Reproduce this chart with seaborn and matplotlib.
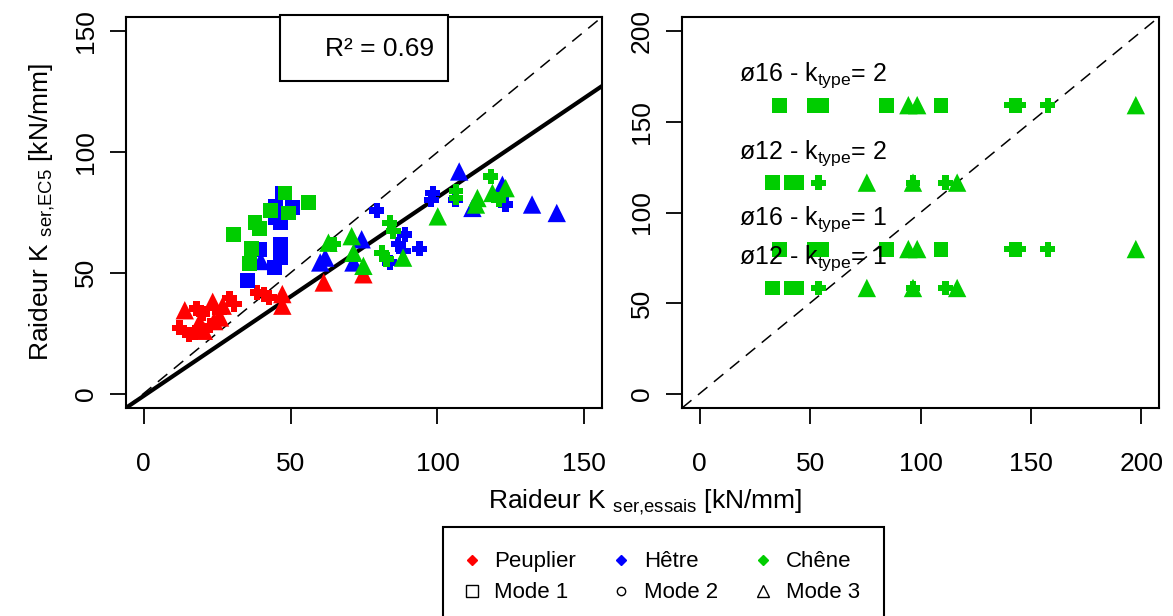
import numpy as np
import pandas as pd
import seaborn as sns
import matplotlib.pyplot as plt
from matplotlib.lines import Line2D
from matplotlib.patches import Rectangle

# ---- left panel : K_ser essais vs K_ser EC5 ----
peuplier_x = [14.0, 12.2, 15.5, 17.5, 18.0, 19.0, 20.5, 20.2, 23.5, 24.0, 22.5, 25.8,
              26.9, 26.0, 29.2, 30.8, 38.7, 41.0, 42.7, 47.2, 47.2, 61.3, 74.8]
peuplier_y = [34.5, 27.3, 24.5, 25.2, 35.2, 29.5, 26.0, 33.0, 38.0, 30.0, 28.0, 33.7,
              36.4, 31.5, 39.5, 37.0, 41.9, 41.2, 39.8, 41.2, 36.4, 46.0, 49.4]
peuplier_mode = [3, 2, 2, 2, 2, 3, 3, 2, 3, 3, 2, 2,
                 3, 3, 2, 2, 2, 2, 2, 3, 3, 3, 3]

hetre_x = [47.2, 44.9, 50.6, 44.9, 46.6, 46.6, 39.3, 46.6, 44.4, 35.4, 39.9,
           107.4, 98.4, 97.9, 106.1, 122.1, 123.2, 132.2, 140.6, 111.9, 79.3, 88.9,
           86.6, 88.3, 93.9, 83.8, 74.2, 61.8, 60.1, 71.4]
hetre_y = [83.1, 77.6, 76.9, 72.8, 70.7, 61.8, 59.7, 56.3, 52.2, 47.0, 54.9,
           92.0, 83.1, 80.3, 80.3, 86.5, 78.3, 78.3, 74.8, 76.9, 75.8, 65.9,
           61.8, 59.0, 60.0, 54.3, 63.9, 56.3, 54.3, 54.3]
hetre_mode = [1, 1, 1, 1, 1, 1, 1, 1, 1, 1, 3,
              3, 2, 2, 2, 3, 2, 3, 3, 3, 2, 2,
              2, 2, 2, 2, 3, 3, 3, 3]

chene_x = [48.1, 56.2, 43.2, 49.4, 37.9, 39.3, 30.6, 36.7, 35.9,
           118.1, 106.3, 106.3, 113.6, 113.1, 118.7, 123.2, 120.9, 100.1, 83.8, 84.9,
           81.0, 82.7, 88.3, 70.8, 71.4, 74.8, 62.9, 64.6]
chene_y = [83.1, 79.2, 75.8, 74.8, 71.0, 68.2, 65.9, 60.2, 53.8,
           89.9, 83.8, 81.0, 81.0, 78.3, 83.1, 85.1, 80.3, 73.4, 70.7, 67.3,
           58.3, 55.6, 56.3, 65.2, 58.3, 52.9, 62.5, 61.8]
chene_mode = [1, 1, 1, 1, 1, 1, 1, 1, 1,
              2, 2, 2, 3, 3, 3, 3, 2, 3, 2, 2,
              2, 2, 3, 3, 3, 3, 3, 2]

reg_slope = 0.823
reg_intercept = -1.0
r2_text = 'R² = 0.69'

# ---- right panel : Chêne, EC5 value per diameter / k_type ----
d16_x = [36.1, 51.9, 55.1, 84.5, 94.5, 98.5, 109.3, 141.4, 144.4, 157.6, 197.5]
d16_mode = [1, 1, 1, 1, 3, 3, 1, 2, 2, 2, 3]
d12_x = [32.8, 41.4, 43.9, 53.8, 75.7, 96.6, 96.6, 111.3, 116.6]
d12_mode = [1, 1, 1, 2, 3, 3, 2, 2, 3]

group_labels = ['ø16 - k$_{type}$= 2', 'ø12 - k$_{type}$= 2',
                'ø16 - k$_{type}$= 1', 'ø12 - k$_{type}$= 1']
group_diam = [16, 12, 16, 12]
group_ec5 = [159.3, 116.5, 79.8, 58.3]

colors = {'Peuplier': '#FF0000', 'Hêtre': '#0000FF', 'Chêne': '#00CD00'}
# chunky cross, close to how the small filled dots look in the original
dot = [(-0.42, 1), (0.42, 1), (0.42, 0.42), (1, 0.42), (1, -0.42), (0.42, -0.42),
       (0.42, -1), (-0.42, -1), (-0.42, -0.42), (-1, -0.42), (-1, 0.42), (-0.42, 0.42)]
markers = {1: 's', 2: dot, 3: '^'}
msizes = {1: 115, 2: 115, 3: 175}

sns.set_style('white')
plt.rcParams['font.family'] = ['Liberation Sans', 'DejaVu Sans']
plt.rcParams['mathtext.default'] = 'regular'
plt.rcParams['text.color'] = 'black'
plt.rcParams['axes.labelcolor'] = 'black'
plt.rcParams['xtick.color'] = 'black'
plt.rcParams['ytick.color'] = 'black'


def frame(x, y, mode, name):
    return pd.DataFrame({'x': x, 'y': y, 'mode': mode, 'essence': name})


left = pd.concat([frame(peuplier_x, peuplier_y, peuplier_mode, 'Peuplier'),
                  frame(hetre_x, hetre_y, hetre_mode, 'Hêtre'),
                  frame(chene_x, chene_y, chene_mode, 'Chêne')])

rows = []
for lab, d, v in zip(group_labels, group_diam, group_ec5):
    xs = d16_x if d == 16 else d12_x
    ms = d16_mode if d == 16 else d12_mode
    rows.append(pd.DataFrame({'x': xs, 'y': [v] * len(xs), 'mode': ms, 'groupe': lab}))
right = pd.concat(rows)

W, H = 1173, 616
fig = plt.figure(figsize=(W / 100, H / 100), dpi=100)
ax1 = fig.add_axes([126 / W, 1 - 408 / H, 476 / W, 391 / H])
ax2 = fig.add_axes([682 / W, 1 - 408 / H, 477 / W, 391 / H])

sns.scatterplot(data=left, x='x', y='y', hue='essence', style='mode', size='mode',
                palette=colors, markers=markers, sizes=msizes, linewidth=0,
                legend=False, ax=ax1, zorder=3)
ax1.axline((0, 0), slope=1, color='black', lw=1.1, ls=(0, (8, 5.5)))
ax1.axline((0, reg_intercept), slope=reg_slope, color='black', lw=3)
ax1.set_xlim(-6, 156)
ax1.set_ylim(-6, 156)
ax1.set_xticks([0, 50, 100, 150])
ax1.set_yticks([0, 50, 100, 150])
ax1.add_patch(Rectangle((0.3235, 0.836), 0.3525, 0.17, transform=ax1.transAxes,
                        facecolor='white', edgecolor='black', lw=1.5, zorder=5,
                        clip_on=False))
ax1.text(0.648, 0.918, r2_text, transform=ax1.transAxes, ha='right', va='center',
         fontsize=19, zorder=6)

sns.scatterplot(data=right, x='x', y='y', style='mode', size='mode',
                color=colors['Chêne'], markers=markers, sizes=msizes, linewidth=0,
                legend=False, ax=ax2, zorder=3)
ax2.axline((0, 0), slope=1, color='black', lw=1.1, ls=(0, (8, 5.5)))
for lab, v in zip(group_labels, group_ec5):
    ax2.text(17.8, v + 16.5, lab, ha='left', va='center', fontsize=18, zorder=4)
ax2.set_xlim(-8, 208)
ax2.set_ylim(-8, 208)
ax2.set_xticks([0, 50, 100, 150, 200])
ax2.set_yticks([0, 50, 100, 150, 200])

for ax in (ax1, ax2):
    ax.set_xlabel('')
    ax.set_ylabel('')
    for sp in ax.spines.values():
        sp.set_color('black')
        sp.set_linewidth(1.5)
    ax.tick_params(axis='both', which='major', direction='out', length=11.5,
                   width=1.3, color='black', labelcolor='black', labelsize=19,
                   left=True, bottom=True)
    ax.tick_params(axis='x', pad=20)
    ax.tick_params(axis='y', pad=9)
    for t in ax.get_yticklabels():
        t.set_rotation(90)
        t.set_va('center')

ax1.set_ylabel('Raideur K $_{ser{,}EC5}$ [kN/mm]', fontsize=19, labelpad=12)
fig.text(645 / W, 1 - 502 / H, 'Raideur K $_{ser{,}essais}$ [kN/mm]', fontsize=19,
         ha='center', va='center')

handles = [
    Line2D([], [], ls='', marker='D', color=colors['Peuplier'], markersize=5),
    Line2D([], [], ls='', marker='s', mfc='none', mec='black', mew=1, markersize=8),
    Line2D([], [], ls='', marker='D', color=colors['Hêtre'], markersize=5),
    Line2D([], [], ls='', marker='o', mfc='none', mec='black', mew=1, markersize=6),
    Line2D([], [], ls='', marker='D', color=colors['Chêne'], markersize=5),
    Line2D([], [], ls='', marker='^', mfc='none', mec='black', mew=1, markersize=9),
]
labels = ['Peuplier', 'Mode 1', 'Hêtre', 'Mode 2', 'Chêne', 'Mode 3']
leg = fig.legend(handles, labels, ncol=3, loc='upper left',
                 bbox_to_anchor=(443 / W, 1 - 527 / H), bbox_transform=fig.transFigure,
                 borderaxespad=0, fontsize=16, frameon=True, fancybox=False,
                 framealpha=1, edgecolor='black', borderpad=1.1, labelspacing=0.45,
                 handlelength=0.4, handletextpad=0.8, columnspacing=1.85)
leg.get_frame().set_linewidth(1.5)

fig.savefig('out.png', dpi=100)
